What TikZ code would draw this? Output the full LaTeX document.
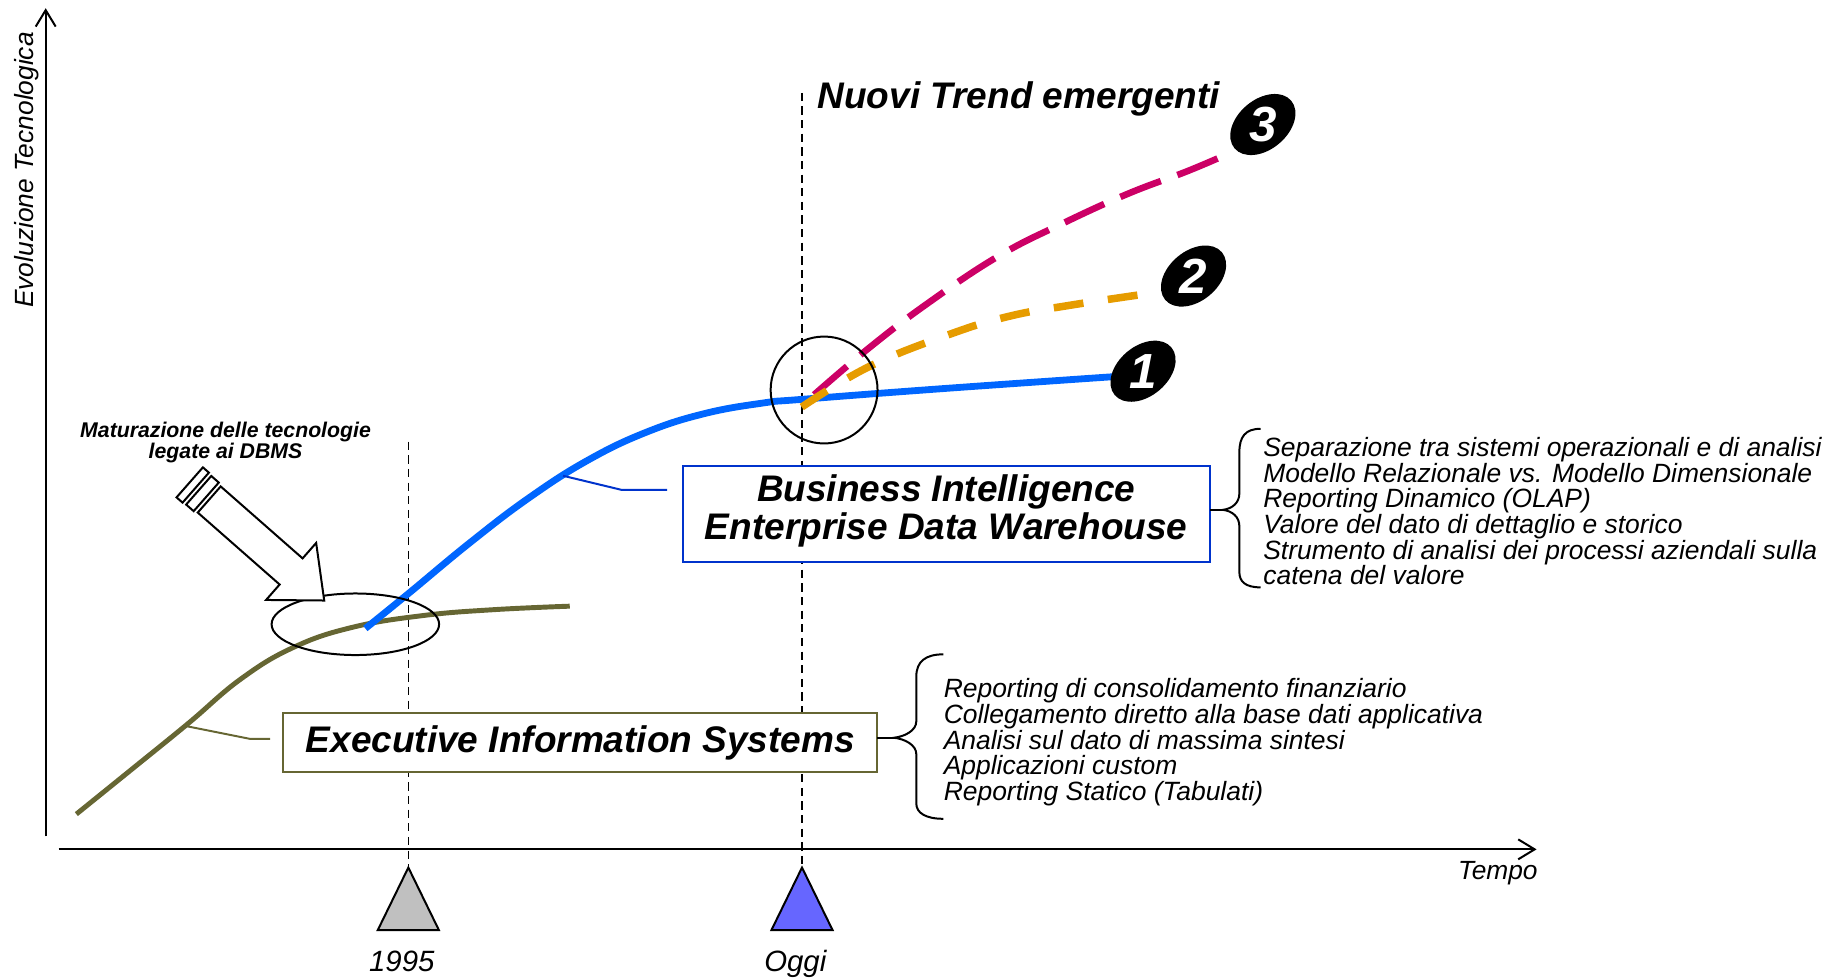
\documentclass[tikz,border=0pt]{standalone}
\usepackage{fontspec}
\setmainfont{Liberation Sans}
\usetikzlibrary{arrows.meta,shapes.geometric}
\definecolor{bluecurve}{HTML}{0066FF}
\definecolor{olivec}{HTML}{666633}
\definecolor{magentac}{HTML}{CC0066}
\definecolor{orangec}{HTML}{E69C00}
\definecolor{boxblue}{HTML}{0033CC}
\definecolor{trigray}{HTML}{C0C0C0}
\definecolor{triblue}{HTML}{6666FF}
\begin{document}
\begin{tikzpicture}[x=0.5pt,y=-0.5pt,
  axisline/.style={line width=0.85pt,-{Straight Barb[length=7pt,width=8.5pt]}},
  guide/.style={line width=0.65pt,dash pattern=on 3.5pt off 2.3pt},
  thin/.style={line width=0.85pt},
  bigtxt/.style={font=\fontsize{15.75}{16}\selectfont\bfseries\itshape,inner sep=0},
  listtxt/.style={font=\fontsize{11.25}{10.9}\selectfont\itshape,inner sep=0,align=left},
  axtxt/.style={font=\fontsize{11.2}{12}\selectfont\itshape,inner sep=0},
  yeartxt/.style={font=\fontsize{12.5}{13}\selectfont\itshape,inner sep=0},
  numoval/.style={ellipse,fill=black,minimum width=31.5pt,minimum height=21.3pt,inner sep=0,rotate=40},
  numtxt/.style={text=white,font=\fontsize{21}{21}\selectfont\bfseries\itshape,inner sep=0},
  bluebox/.style={draw=boxblue,fill=white,line width=0.85pt},
  olivebox/.style={draw=olivec,fill=white,line width=0.85pt}]
\useasboundingbox (0,0) rectangle (1568,833);

% axes
\coordinate (yb) at (38.9,712);
\coordinate (yt) at (38.9,7);
\coordinate (xl) at (50,723);
\coordinate (xr) at (1308,723);
\draw[axisline] (yb) -- (yt);
\draw[axisline] (xl) -- (xr);
\node[axtxt,rotate=90,anchor=base] (ylab) at (28.5,144.7) {Evoluzione Tecnologica};
\node[axtxt] (xlab) at (1275,743) {Tempo};

% triangles and guides
\coordinate (a1995) at (347.6,738.5);
\coordinate (aoggi) at (682.7,738.5);
\coordinate (g1top) at (347.6,376);
\coordinate (g2top) at (682.7,79);
\draw[guide] (g1top) -- (a1995);
\draw[guide] (g2top) -- (aoggi);
\filldraw[fill=trigray,thin,line join=miter] (a1995) -- ++(-26,53.2) -- ++(52,0) -- cycle;
\filldraw[fill=triblue,thin,line join=miter] (aoggi) -- ++(-26,53.2) -- ++(52,0) -- cycle;
\node[yeartxt,anchor=base] (l1995) at (342,827) {1995};
\node[yeartxt,anchor=base] (loggi) at (677,827) {Oggi};

% curves
\draw[olivec,line width=2.1pt] plot[smooth,tension=0.7] coordinates {(65,693) (112,655) (160,616) (205,578) (250,551) (300,534) (360,524) (420,519) (485,516)};
\draw[bluecurve,line width=2.9pt] plot[smooth,tension=0.7] coordinates {(311,535) (348,505) (400,462) (450,424) (500,392) (550,368) (600,352) (650,343) (682,340) (800,331) (950,320.5)};
\draw[magentac,line width=2.8pt,dash pattern=on 18.5pt off 7.5pt] plot[smooth,tension=0.7] coordinates {(693,336) (740,296) (790,258) (850,218) (905,190) (960,165) (1010,146) (1043,132)};
\draw[orangec,line width=3.2pt,dash pattern=on 12.75pt off 10.5pt] plot[smooth,tension=0.7] coordinates {(682.5,346.5) (740,312) (810,284) (860,269) (910,260) (970,251)};

% numbered ovals
\node[numoval] (n1) at (973,316) {};
\node[numtxt] at (n1.center) {1};
\node[numoval] (n2) at (1016,235) {};
\node[numtxt] at (n2.center) {2};
\node[numoval] (n3) at (1075,106) {};
\node[numtxt] at (n3.center) {3};

% circle and ellipse
\draw[thin] (701.5,332) ellipse [x radius=45.5,y radius=45.5];
\draw[thin] (302.5,531.4) ellipse [x radius=71.3,y radius=26.2];

% block arrow
\begin{scope}[shift={(178.1,425.2)},rotate=-41.3]
  \filldraw[fill=white,thin,line join=miter] (0,-14.8) -- (92.8,-14.8) -- (92.8,-32.3) -- (130.3,0) -- (92.8,32.3) -- (92.8,14.8) -- (0,14.8) -- cycle;
  \draw[thin] (-3.4,-16.2) rectangle (-11.9,16.2);
  \draw[thin] (-15.3,-17) rectangle (-22.1,17);
\end{scope}
\node[font=\fontsize{9.05}{9}\selectfont\bfseries\itshape,inner sep=0,align=center,anchor=north] (matur) at (192,359) {Maturazione delle tecnologie\\legate ai DBMS};

% title
\node[bigtxt,anchor=base west] (trend) at (695.5,92) {Nuovi Trend emergenti};

% boxes
\draw[bluebox] (581,397) rectangle (1030,478);
\node[bigtxt,align=center] (bi) at (805.5,435) {Business Intelligence\\Enterprise Data Warehouse};
\draw[olivebox] (241,607) rectangle (746.6,657);
\node[bigtxt] (eis) at (494,632) {Executive Information Systems};

% leaders
\coordinate (bl1) at (479.3,405);
\coordinate (bl2) at (529.5,417.1);
\coordinate (bl3) at (567.8,417.1);
\draw[boxblue,line width=0.85pt] (bl1) -- (bl2) -- (bl3);
\coordinate (ol1) at (158,618);
\coordinate (ol2) at (213,629);
\coordinate (ol3) at (230,629);
\draw[olivec,line width=0.85pt] (ol1) -- (ol2) -- (ol3);

% braces
\draw[thin] (1030,434) -- (1041,434);
\draw[thin] (1073,365) .. controls (1060,365) and (1055,372) .. (1055,385) -- (1055,420) .. controls (1055,428) and (1049,433) .. (1041,434) .. controls (1049,435) and (1055,440) .. (1055,448) -- (1055,487) .. controls (1055,495) and (1060,500) .. (1073,500);
\draw[thin] (746.6,628) -- (761,628);
\draw[thin] (803,557) .. controls (788,557) and (780,563) .. (780,576) -- (780,614) .. controls (780,622) and (770,627) .. (761,628) .. controls (770,629) and (780,634) .. (780,642) -- (780,684) .. controls (780,692) and (788,697) .. (803,697);

% lists
\node[listtxt,anchor=north west] (bilist) at (1075,372) {Separazione tra sistemi operazionali e di analisi\\Modello Relazionale vs. Modello Dimensionale\\Reporting Dinamico (OLAP)\\Valore del dato di dettaglio e storico\\Strumento di analisi dei processi aziendali sulla\\catena del valore};
\node[listtxt,anchor=north west,font=\fontsize{11.25}{11}\selectfont\itshape] (eislist) at (803,577) {Reporting di consolidamento finanziario\\Collegamento diretto alla base dati applicativa\\Analisi sul dato di massima sintesi\\Applicazioni custom\\Reporting Statico (Tabulati)};
\end{tikzpicture}
\end{document}
